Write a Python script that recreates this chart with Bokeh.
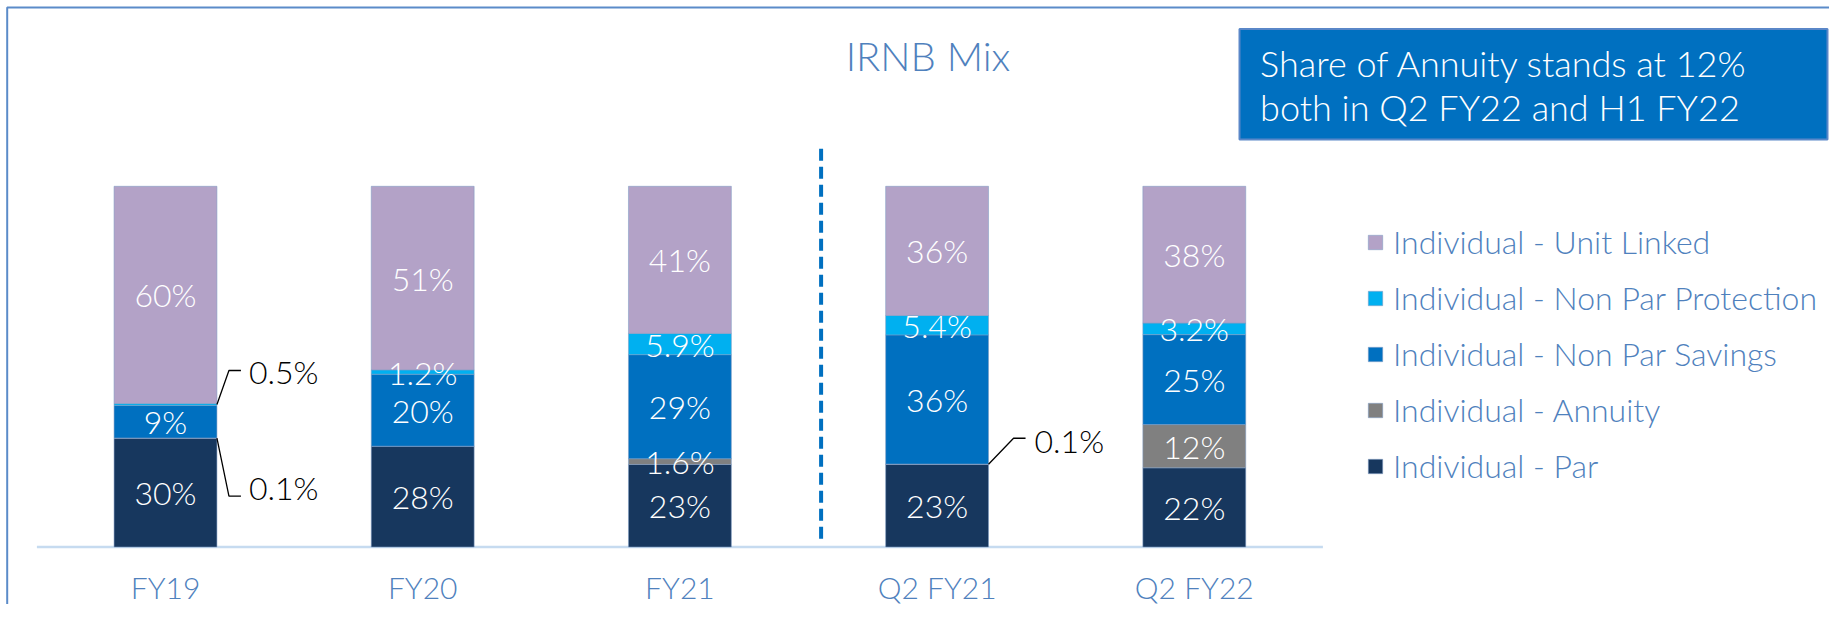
from bokeh.plotting import figure
from bokeh.models import Range1d, Legend, LegendItem, ColumnDataSource
from bokeh.core.properties import value
from bokeh.embed import file_html
from bokeh.resources import INLINE

# ---------------- data ----------------
categories = ["FY19", "FY20", "FY21", "Q2 FY21", "Q2 FY22"]
series_names = ["Individual - Par", "Individual - Annuity", "Individual - Non Par Savings",
                "Individual - Non Par Protection", "Individual - Unit Linked"]
par = [30, 28, 23, 23, 22]
annuity = [0.1, 0.0, 1.6, 0.1, 12]
savings = [9, 20, 29, 36, 25]
protection = [0.5, 1.2, 5.9, 5.4, 3.2]
unit_linked = [60, 51, 41, 36, 38]
title_text = "IRNB Mix"
note_lines = ["Share of Annuity stands at 12%", "both in Q2 FY22 and H1 FY22"]

# ---------------- styles / layout ----------------
colors = ["#17375E", "#808080", "#0070C0", "#00B0F0", "#B3A2C7"]
BLUE_TEXT = "#4F81BD"
FONT_LIGHT = "Lato Light"
W, H = 1829, 604
X0, STEP = 165.0, 257.2  # pixel x of first category, pixels per category
Y0, PX100 = 546.5, 360.7 # pixel y of 0 %, pixels per 100 %


def xd(sx):
    return (sx - X0) / STEP


def yd(sy):
    return (Y0 - sy) / PX100 * 100.0


series_vals = [par, annuity, savings, protection, unit_linked]
keys = ["par", "annuity", "savings", "protection", "unit_linked"]
n = len(categories)
totals = [sum(s[i] for s in series_vals) for i in range(n)]
norm = {k: [s[i] / totals[i] * 100.0 for i in range(n)] for k, s in zip(keys, series_vals)}
xs = list(range(n))
src = ColumnDataSource(dict(x=xs, **norm))

p = figure(width=W, height=H,
           x_range=Range1d(xd(0), xd(W)),
           y_range=Range1d(yd(H), yd(0)),
           output_backend="svg", toolbar_location=None,
           x_axis_location=None, y_axis_location=None,
           min_border_left=0, min_border_right=0, min_border_top=0, min_border_bottom=0,
           outline_line_color=None, background_fill_color="white", border_fill_color="white")
p.grid.visible = False

# slide frame (top and left edges)
p.line([xd(6.7), xd(6.7), xd(W)], [yd(H), yd(7.1), yd(7.1)], line_color="#5B8BC9", line_width=2)

# baseline
p.segment(x0=[-0.5], y0=[0], x1=[n - 0.5], y1=[0], line_color="#C6DBF0", line_width=2.5)

renderers = p.vbar_stack(keys, x="x", width=0.4, color=colors, source=src,
                         line_color="#7F9CC4", line_width=0.8, line_alpha=0.7)

# category labels
p.text(x=xs, y=[yd(586)] * n, text=categories, text_color=BLUE_TEXT, text_align="center",
       text_baseline="middle", text_font=value(FONT_LIGHT), text_font_size="30px")

# in-bar labels
callouts = {(0, 3), (0, 1), (3, 1)}
lx, ly, lt = [], [], []
for i in range(n):
    bottom = 0.0
    for si, k in enumerate(keys):
        v = norm[k][i]
        raw = series_vals[si][i]
        if raw > 0 and (i, si) not in callouts:
            lx.append(i)
            ly.append(bottom + v / 2)
            lt.append(f"{int(raw)}%" if raw == int(raw) else f"{raw}%")
        bottom += v
p.text(x=lx, y=ly, text=lt, text_color="white", text_align="center", text_baseline="middle",
       text_font=value(FONT_LIGHT), text_font_size="32px")

# callouts with leader lines: (cat, series, elbow dx px, elbow dy px, line end dx, text dx, text dy)
callout_layout = [(0, 3, 12, -34, 24, 32, -33),
                  (0, 1, 12, 58, 24, 32, 49),
                  (3, 1, 25, -26, 37, 46, -24)]
for (ci, si, edx, edy, ldx, tdx, tdy) in callout_layout:
    bottom = sum(norm[k][ci] for k in keys[:si])
    mid = bottom + norm[keys[si]][ci] / 2
    xe = ci + 0.2
    xs_line = [xe, xe + edx / STEP, xe + ldx / STEP]
    y_mid_px = Y0 - mid / 100 * PX100
    ys_line = [mid, yd(y_mid_px + edy), yd(y_mid_px + edy)]
    p.line(xs_line, ys_line, line_color="black", line_width=1.3)
    raw = series_vals[si][ci]
    p.text(x=[xe + tdx / STEP], y=[yd(y_mid_px + tdy)], text=[f"{raw}%"], text_color="black",
           text_align="left", text_baseline="middle", text_font=value(FONT_LIGHT),
           text_font_size="32px")

# separator
p.segment(x0=[xd(820.6)], y0=[yd(148.3)], x1=[xd(820.6)], y1=[yd(539.7)],
          line_color="#0070C0", line_width=4, line_dash="12 6")

# title
p.text(x=[xd(927.5)], y=[yd(55)], text=[title_text], text_color=BLUE_TEXT, text_align="center",
       text_baseline="middle", text_font=value(FONT_LIGHT), text_font_size="40px")

# note box
p.quad(left=[xd(1239)], right=[xd(1827)], top=[yd(28.5)], bottom=[yd(139)],
       fill_color="#0070C0", line_color="#5A87C8", line_width=2)
p.text(x=[xd(1259.6)] * 2, y=[yd(62), yd(106.5)], text=note_lines, text_color="white",
       text_align="left", text_baseline="middle", text_font=value(FONT_LIGHT),
       text_font_size="36px")

# legend
items = [LegendItem(label=series_names[k], renderers=[renderers[k]]) for k in reversed(range(len(keys)))]
legend = Legend(items=items, location=(1366, 119), glyph_width=18, glyph_height=18, label_standoff=9,
                spacing=17, padding=0, margin=0, label_height=36, border_line_color=None,
                background_fill_alpha=0, label_text_font=FONT_LIGHT, label_text_font_size="32px",
                label_text_color=BLUE_TEXT)
p.add_layout(legend)

open("out.html", "w").write(file_html(p, INLINE))
